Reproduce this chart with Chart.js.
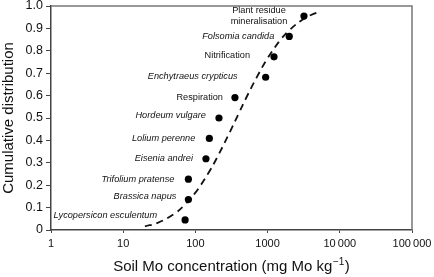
<!DOCTYPE html>
<html>
<head>
<meta charset="utf-8">
<script src="https://cdn.jsdelivr.net/npm/chart.js@4"></script>
<style>
  html, body { margin: 0; padding: 0; background: #fff; }
  #myChart { display: block; }
</style>
</head>
<body>
<canvas id="myChart" width="434" height="277"></canvas>
<script>
// endpoints (mg Mo / kg) and their cumulative rank
const endpointNames = ['Lycopersicon esculentum', 'Brassica napus', 'Trifolium pratense', 'Eisenia andrei',
    'Lolium perenne', 'Hordeum vulgare', 'Respiration', 'Enchytraeus crypticus',
    'Nitrification', 'Folsomia candida', 'Plant residue\nmineralisation'];
const endpointConc = [72, 80, 80, 140, 156, 212, 353, 940, 1227, 1995, 3190];
const endpointCum = [0.045, 0.136, 0.227, 0.318, 0.409, 0.5, 0.591, 0.682, 0.773, 0.864, 0.955];

// fitted curve
const curveConc = [20, 30, 50, 70, 100, 150, 200, 300, 400, 500, 700, 1000, 1500, 2000, 3000, 4000, 5400];
const curveCum = [0.016, 0.032, 0.070, 0.110, 0.167, 0.252, 0.324, 0.437, 0.522, 0.587, 0.679, 0.767, 0.848, 0.892, 0.938, 0.960, 0.976];

const xTicks = [1, 10, 100, 1000, 10000, 100000];
const xTickLabels = ['1', '10', '100', '1000', '10\u2009000', '100\u2009000'];
const yTicks = [0, 0.1, 0.2, 0.3, 0.4, 0.5, 0.6, 0.7, 0.8, 0.9, 1.0];
const yTickLabels = ['0', '0.1', '0.2', '0.3', '0.4', '0.5', '0.6', '0.7', '0.8', '0.9', '1.0'];

// label look: italic?, offset from the point [dx, dy]
const labelStyle = [
    { italic: true, dx: -28, dy: -4 },
    { italic: true, dx: -12, dy: -3 },
    { italic: true, dx: -14, dy: 0 },
    { italic: true, dx: -13, dy: 0 },
    { italic: true, dx: -14, dy: 0 },
    { italic: true, dx: -13, dy: -3 },
    { italic: false, dx: -12, dy: 0 },
    { italic: true, dx: -28, dy: -1 },
    { italic: false, dx: -24, dy: -1 },
    { italic: true, dx: -15, dy: 0 },
    { italic: false, dx: -45, dy: 0, center: true }
];

const FONT = "'Liberation Sans', Arial, sans-serif";

const pointLabels = {
    id: 'pointLabels',
    afterDatasetsDraw(chart) {
        const c = chart.ctx;
        const xs = chart.scales.x, ys = chart.scales.y;
        c.save();
        c.fillStyle = '#111';
        c.textBaseline = 'middle';
        for (let i = 0; i < endpointNames.length; i++) {
            const st = labelStyle[i];
            const px = xs.getPixelForValue(endpointConc[i]) + st.dx;
            const py = ys.getPixelForValue(endpointCum[i]) + st.dy;
            c.font = (st.italic ? 'italic ' : '') + '9.2px ' + FONT;
            c.textAlign = st.center ? 'center' : 'right';
            const lines = endpointNames[i].split('\n');
            const lh = 11;
            lines.forEach((ln, k) => {
                c.fillText(ln, px, py + (k - (lines.length - 1) / 2) * lh);
            });
        }
        c.restore();
    }
};

const frame = {
    id: 'frame',
    afterDraw(chart) {
        const a = chart.chartArea;
        const c = chart.ctx;
        c.save();
        c.strokeStyle = '#777';
        c.lineWidth = 1.5;
        c.beginPath();
        c.moveTo(a.left, a.top);
        c.lineTo(a.right, a.top);
        c.lineTo(a.right, a.bottom);
        c.stroke();

        // x title with superscript
        const main = 'Soil Mo concentration (mg Mo kg';
        const sup = '\u22121';
        const tail = ')';
        c.fillStyle = '#111';
        c.textBaseline = 'alphabetic';
        c.textAlign = 'left';
        c.font = '15px ' + FONT;
        const w1 = c.measureText(main).width;
        const w3 = c.measureText(tail).width;
        c.font = '10px ' + FONT;
        const w2 = c.measureText(sup).width;
        const total = w1 + w2 + w3 + 1;
        let x0 = (a.left + a.right) / 2 - total / 2;
        const base = 271;
        c.font = '15px ' + FONT;
        c.fillText(main, x0, base);
        c.font = '10px ' + FONT;
        c.fillText(sup, x0 + w1 + 0.5, base - 6);
        c.font = '15px ' + FONT;
        c.fillText(tail, x0 + w1 + w2 + 1, base);
        c.restore();
    }
};

var canvas = document.getElementById('myChart');
var ctx = canvas.getContext('2d');

var chart = new Chart(ctx, {
    type: 'scatter',
    data: {
        datasets: [{
            label: 'Endpoints',
            data: endpointConc.map((v, i) => ({ x: v, y: endpointCum[i] })),
            backgroundColor: '#000',
            borderWidth: 0,
            pointRadius: 3.6,
            pointHoverRadius: 3.6
        }, {
            label: 'Fit',
            type: 'line',
            data: curveConc.map((v, i) => ({ x: v, y: curveCum[i] })),
            borderColor: '#111',
            borderWidth: 1.8,
            borderDash: [7, 5],
            pointRadius: 0,
            tension: 0.4,
            fill: false
        }]
    },
    options: {
        responsive: false,
        animation: false,
        layout: { padding: { top: 6, right: 22, left: 0, bottom: 0 } },
        plugins: {
            legend: { display: false },
            tooltip: { enabled: false }
        },
        scales: {
            x: {
                type: 'logarithmic',
                min: 1,
                max: 100000,
                afterBuildTicks: (s) => { s.ticks = xTicks.map(v => ({ value: v })); },
                afterFit: (s) => { s.height = 47; s.paddingLeft = 0; s.paddingRight = 0; },
                ticks: {
                    autoSkip: false,
                    maxRotation: 0,
                    padding: 4,
                    color: '#111',
                    font: { family: FONT, size: 11 },
                    callback: (v) => xTickLabels[xTicks.indexOf(v)]
                },
                grid: { drawOnChartArea: false, tickLength: 3, color: '#444' },
                border: { color: '#444', width: 1.5 }
            },
            y: {
                min: 0,
                max: 1,
                afterBuildTicks: (s) => { s.ticks = yTicks.map(v => ({ value: v })); },
                afterFit: (s) => { s.width = 51; s.paddingTop = 0; s.paddingBottom = 0; },
                ticks: {
                    padding: 3,
                    color: '#111',
                    font: { family: FONT, size: 12.5 },
                    callback: (v, i) => yTickLabels[i]
                },
                grid: { drawOnChartArea: false, tickLength: 5, color: '#444' },
                border: { color: '#444', width: 1.5 },
                title: {
                    display: true,
                    text: 'Cumulative distribution',
                    color: '#111',
                    padding: 0,
                    font: { family: FONT, size: 15 }
                }
            }
        }
    },
    plugins: [pointLabels, frame]
});
</script>
</body>
</html>
